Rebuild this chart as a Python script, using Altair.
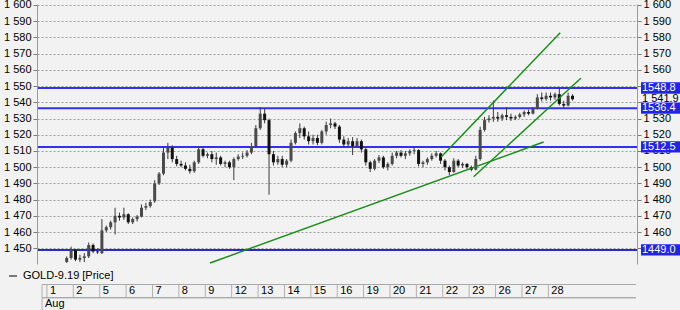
import altair as alt
import pandas as pd

# ---------------- data ----------------
DAY_LABELS = ["1", "2", "5", "6", "7", "8", "9", "12", "13", "14", "15", "16",
              "19", "20", "21", "22", "23", "26", "27", "28"]
MONTH_LABEL = "Aug"
SERIES_NAME = "GOLD-9.19 [Price]"
PER_DAY = 6          # candles per trading day
FIRST_SLOT = 4       # first candle sits in slot 4 of day 1

OPEN = [1441.5, 1444,
        1449, 1443, 1444, 1445, 1452, 1448,
        1447, 1461, 1463, 1466, 1470, 1469,
        1471, 1466, 1468, 1469.5, 1475, 1476,
        1479, 1490, 1496, 1509, 1512, 1505,
        1502, 1501, 1499, 1497.5, 1503, 1511,
        1507, 1508, 1505, 1506, 1502, 1503,
        1500, 1505, 1506.5, 1507, 1509, 1513,
        1524, 1533, 1529, 1508, 1503, 1505,
        1501.5, 1504, 1515, 1521, 1524, 1519,
        1516, 1518, 1515, 1522, 1526, 1527,
        1525, 1517, 1514, 1516, 1513, 1516,
        1511, 1503, 1499, 1504, 1506, 1500,
        1502, 1507, 1509, 1507, 1508.5, 1510,
        1510.5, 1502, 1503, 1505, 1507, 1508.5,
        1504, 1500, 1497, 1504, 1501, 1502,
        1500, 1498.5, 1505, 1523, 1529, 1530,
        1531, 1530, 1532, 1531, 1530, 1531,
        1532.5, 1534, 1533, 1536, 1543, 1542,
        1544, 1543, 1545, 1539, 1538, 1544]
HIGH = [1445, 1451,
        1449.5, 1446, 1447, 1453.5, 1453, 1450,
        1468, 1464, 1467, 1475, 1472, 1475,
        1471.5, 1469, 1470.5, 1477, 1478, 1480,
        1492, 1497, 1512, 1515, 1513.5, 1507,
        1504, 1503, 1501.5, 1504, 1513, 1512,
        1509, 1510, 1509, 1507, 1504, 1504,
        1506, 1508, 1509, 1510.5, 1515, 1526,
        1537, 1536, 1530, 1510, 1507, 1507,
        1505, 1517, 1522, 1527, 1525, 1522,
        1520, 1520, 1523, 1528, 1530, 1528,
        1526, 1519, 1518, 1518.5, 1518, 1517,
        1512, 1504, 1505, 1507.5, 1507, 1503,
        1509, 1510, 1510.5, 1510, 1511, 1512,
        1511, 1504, 1506, 1508.5, 1510, 1509,
        1505, 1501, 1505.5, 1505, 1503, 1502.5,
        1501, 1507, 1525, 1531, 1532, 1541,
        1534, 1533, 1537, 1533, 1532, 1533.5,
        1535, 1535.5, 1537, 1545, 1546, 1546,
        1546, 1546, 1549, 1541, 1546, 1545]
LOW = [1441, 1443,
       1442, 1441.5, 1441.5, 1444, 1447, 1446.5,
       1446.5, 1460, 1461.5, 1458.5, 1467, 1467.5,
       1465, 1465, 1466.5, 1469, 1473.5, 1475,
       1478, 1489, 1495, 1505, 1503, 1500.5,
       1500, 1498, 1496, 1496.5, 1502, 1506,
       1505.5, 1503, 1501.5, 1501, 1500, 1499,
       1492, 1504, 1505, 1506, 1508, 1512,
       1523, 1527, 1483, 1501, 1501.5, 1500,
       1500, 1503, 1514, 1518, 1517, 1514,
       1514, 1513.5, 1514, 1520, 1524, 1523.5,
       1515, 1512, 1512.5, 1507.5, 1512, 1509,
       1501, 1497, 1498, 1502.5, 1499, 1498,
       1501, 1505.5, 1506, 1505, 1507, 1508,
       1500.5, 1500, 1501.5, 1504, 1506, 1502,
       1498, 1495, 1496.5, 1500, 1499.5, 1499,
       1497.5, 1498, 1504, 1522, 1527.5, 1528,
       1528, 1528.5, 1529, 1528.5, 1529, 1530,
       1531, 1532, 1532.5, 1535.5, 1540.5, 1541,
       1541, 1541.5, 1538, 1536.5, 1537.5, 1541]
CLOSE = [1444, 1449,
         1443, 1444, 1445, 1452, 1448, 1447.5,
         1461, 1463, 1466, 1470, 1469, 1471,
         1466, 1468, 1469.5, 1475, 1476, 1478.5,
         1490, 1496, 1509, 1512, 1505, 1502,
         1501, 1499, 1497.5, 1503, 1511, 1507,
         1508, 1505, 1506, 1502, 1503, 1500,
         1505, 1506.5, 1507, 1509, 1513, 1524,
         1533, 1529, 1508, 1503, 1505, 1501.5,
         1504, 1515, 1521, 1524, 1519, 1516,
         1518, 1515, 1522, 1526, 1527, 1525,
         1517, 1514, 1516, 1513, 1516, 1511,
         1503, 1499, 1504, 1506, 1500, 1502,
         1507, 1509, 1507, 1508.5, 1510, 1510.5,
         1502, 1503, 1505, 1507, 1508.5, 1504,
         1500, 1497, 1504, 1501, 1502, 1500,
         1498.5, 1505, 1523, 1529, 1530, 1531,
         1530, 1532, 1531, 1530, 1531, 1532.5,
         1534, 1533, 1536, 1543, 1542, 1544,
         1543, 1545, 1539, 1538, 1544, 1541.9]

LEVELS = [1548.8, 1536.4, 1512.5, 1449.0]
LEVEL_TEXT = ["1548.8", "1536.4", "1512.5", "1449.0"]
LAST_PRICE = 1541.9
LAST_TEXT = "1 541.9"

# trend lines (start day-position, start price, end day-position, end price)
TREND_T1 = [6.18, 14.94, 16.17]
TREND_P1 = [1440.9, 1506.3, 1494.1]
TREND_T2 = [18.82, 19.45, 20.23]
TREND_P2 = [1515.5, 1582.9, 1554.8]

Y_TICKS = list(range(1450, 1601, 10))

# ---------------- tables ----------------
candles = pd.DataFrame({
    "t": [(FIRST_SLOT + i + 0.5) / PER_DAY for i in range(len(OPEN))],
    "o": OPEN, "h": HIGH, "l": LOW, "c": CLOSE,
})
levels = pd.DataFrame({"level": LEVELS, "label": LEVEL_TEXT})
last = pd.DataFrame({"level": [LAST_PRICE], "label": [LAST_TEXT]})
trends = pd.DataFrame({"t1": TREND_T1, "p1": TREND_P1, "t2": TREND_T2, "p2": TREND_P2})
days = pd.DataFrame({"t": list(range(len(DAY_LABELS))), "label": DAY_LABELS})

FONT = "Liberation Sans"
XS = alt.Scale(domain=[-0.186, 22.17], nice=False, zero=False)
YS = alt.Scale(domain=[1440.3, 1600.6], nice=False, zero=False)
LABEL_EXPR = "replace(format(datum.value, ',d'), ',', ' ')"

# ---------------- layers ----------------
level_rules = alt.Chart(levels).mark_rule(strokeWidth=2).encode(
    x=alt.value(1), x2=alt.value(600),
    y=alt.Y("level:Q", scale=YS, axis=None),
    color=alt.condition("datum.level < 1460", alt.value("#2a2ac4"), alt.value("#2f2ff5")),
)

wicks = alt.Chart(candles).mark_rule(color="#3a3a3a", strokeWidth=1).encode(
    x=alt.X("t:Q", scale=XS, axis=alt.Axis(
        values=list(range(0, 20)), labels=False, ticks=False, title=None,
        grid=True, gridColor="#9c9c9c", gridDash=[2, 2], gridWidth=1,
        domain=True, domainColor="#9a9a9a")),
    y=alt.Y("l:Q", scale=YS, axis=alt.Axis(
        orient="left", values=Y_TICKS, labelExpr=LABEL_EXPR, title=None,
        grid=True, gridColor="#9c9c9c", gridDash=[2, 2], gridWidth=1,
        tickColor="#777777", tickSize=4, domainColor="#9a9a9a",
        labelFont=FONT, labelFontSize=11, labelColor="#000000", labelPadding=2)),
    y2="h:Q",
)

bodies = alt.Chart(candles).mark_bar(size=3).encode(
    x=alt.X("t:Q", scale=XS, axis=None),
    y=alt.Y("o:Q", scale=YS, axis=alt.Axis(
        orient="right", values=Y_TICKS, title=None, grid=False,
        labelExpr="(datum.value == 1540 || datum.value == 1550 || datum.value == 1450) ? '' : " + LABEL_EXPR,
        tickColor="#777777", tickSize=4, domainColor="#9a9a9a",
        labelFont=FONT, labelFontSize=11, labelColor="#000000", labelPadding=2)),
    y2="c:Q",
    color=alt.condition("datum.c >= datum.o", alt.value("#4a4a4a"), alt.value("#111111")),
)

trend_lines = alt.Chart(trends).mark_rule(color="#178c17", strokeWidth=1.4).encode(
    x=alt.X("t1:Q", scale=XS, axis=None), x2="t2:Q",
    y=alt.Y("p1:Q", scale=YS, axis=None), y2="p2:Q",
)

level_boxes = alt.Chart(levels).transform_calculate(
    lo="datum.level - 3.5", hi="datum.level + 3.5"
).mark_rect(color="#2323f0").encode(
    x=alt.value(604), x2=alt.value(643),
    y=alt.Y("lo:Q", scale=YS, axis=None), y2="hi:Q",
)

level_text = alt.Chart(levels).mark_text(
    align="left", baseline="middle", font=FONT, fontSize=11, color="#ffffff"
).encode(
    x=alt.value(605), y=alt.Y("level:Q", scale=YS, axis=None), text="label:N",
)

last_text = alt.Chart(last).mark_text(
    align="left", baseline="middle", font=FONT, fontSize=11, color="#000000"
).encode(
    x=alt.value(605), y=alt.Y("level:Q", scale=YS, axis=None), text="label:N",
)

legend_dash = alt.Chart(last).mark_rule(color="#000000", strokeWidth=1).encode(
    x=alt.value(-28), x2=alt.value(-20), y=alt.value(272),
)
legend_text = alt.Chart(last).mark_text(
    align="left", baseline="middle", font=FONT, fontSize=11, color="#000000",
    text=SERIES_NAME,
).encode(x=alt.value(-14), y=alt.value(272))

box_top = alt.Chart(last).mark_rule(color="#a9a9a9", strokeWidth=1).encode(
    x=alt.value(5), x2=alt.value(599), y=alt.value(280.5))
box_bottom = alt.Chart(last).mark_rule(color="#a9a9a9", strokeWidth=1).encode(
    x=alt.value(5), x2=alt.value(599), y=alt.value(293.5))
box_bottom2 = alt.Chart(last).mark_rule(color="#d6d6d6", strokeWidth=1).encode(
    x=alt.value(5), x2=alt.value(599), y=alt.value(294.5))
separators = alt.Chart(days).mark_rule(color="#b0b0b0", strokeWidth=1).encode(
    x=alt.X("t:Q", scale=XS, axis=None), y=alt.value(280.5), y2=alt.value(293.5))
first_sep = alt.Chart(last).mark_rule(color="#b0b0b0", strokeWidth=1).encode(
    x=alt.value(5), y=alt.value(280.5), y2=alt.value(306))
day_text = alt.Chart(days).mark_text(
    align="left", baseline="middle", font=FONT, fontSize=11, color="#000000", dx=3
).encode(x=alt.X("t:Q", scale=XS, axis=None), y=alt.value(287), text="label:N")
month_text = alt.Chart(last).mark_text(
    align="left", baseline="middle", font=FONT, fontSize=11, color="#000000",
    text=MONTH_LABEL,
).encode(x=alt.value(8), y=alt.value(300))

chart = alt.layer(
    level_rules, wicks, bodies, trend_lines, level_boxes, level_text, last_text,
    legend_dash, legend_text, box_top, box_bottom, box_bottom2, separators,
    first_sep, day_text, month_text,
).resolve_axis(y="independent").properties(
    width=600, height=260,
    autosize=alt.AutoSizeParams(type="none"),
    padding={"left": 37, "top": 4, "right": 43, "bottom": 46},
    background="#f2f2f2",
).configure_view(strokeWidth=0)

chart.save("out.html", embed_options={"renderer": "svg", "actions": False})
